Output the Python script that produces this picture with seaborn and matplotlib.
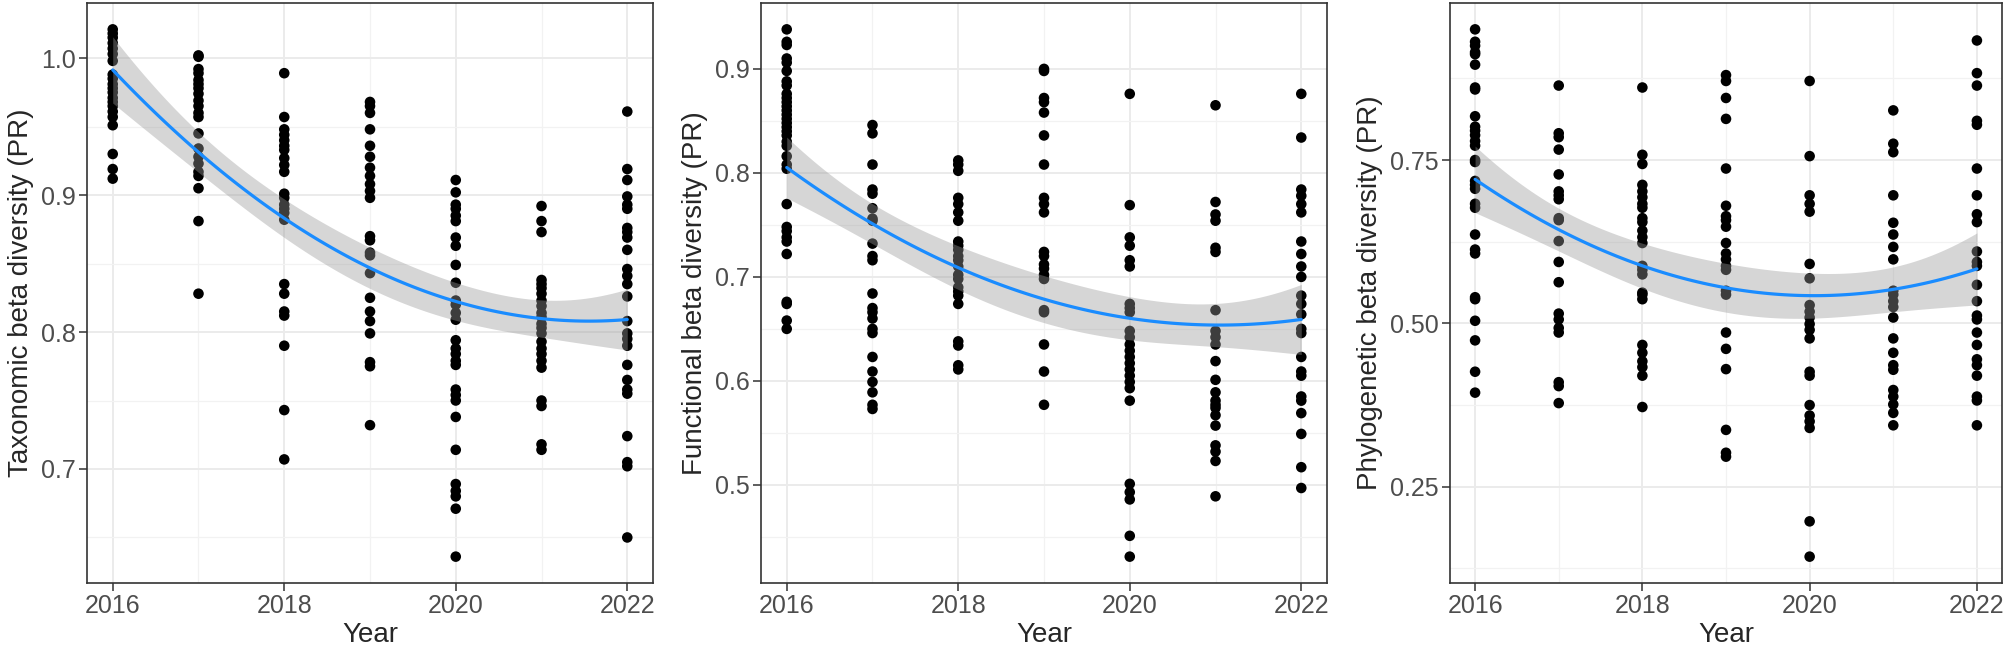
import numpy as np
import pandas as pd
import matplotlib
matplotlib.use("Agg")
import matplotlib.pyplot as plt
import seaborn as sns
from matplotlib.ticker import FixedLocator

years = [2016, 2017, 2018, 2019, 2020, 2021, 2022]

taxonomic = {
    2016: [1.021, 1.018, 1.015, 1.011, 1.007, 1.003, 0.998, 0.988, 0.985, 0.981, 0.978,
           0.975, 0.971, 0.968, 0.965, 0.961, 0.957, 0.951, 0.930, 0.919, 0.912],
    2017: [1.002, 1.001, 0.992, 0.989, 0.984, 0.981, 0.978, 0.974, 0.969, 0.965, 0.960,
           0.957, 0.945, 0.934, 0.928, 0.923, 0.917, 0.914, 0.905, 0.881, 0.828],
    2018: [0.989, 0.957, 0.948, 0.944, 0.940, 0.936, 0.933, 0.927, 0.922, 0.917, 0.901,
           0.898, 0.893, 0.890, 0.887, 0.882, 0.835, 0.828, 0.815, 0.812, 0.790, 0.743, 0.707],
    2019: [0.968, 0.965, 0.960, 0.948, 0.936, 0.928, 0.920, 0.914, 0.908, 0.903, 0.898,
           0.870, 0.867, 0.858, 0.856, 0.843, 0.825, 0.815, 0.808, 0.799, 0.778, 0.775, 0.732],
    2020: [0.911, 0.902, 0.893, 0.890, 0.885, 0.881, 0.869, 0.863, 0.849, 0.836, 0.823,
           0.820, 0.814, 0.809, 0.794, 0.788, 0.784, 0.779, 0.776, 0.758, 0.754, 0.750,
           0.738, 0.714, 0.689, 0.684, 0.680, 0.671, 0.636],
    2021: [0.892, 0.881, 0.873, 0.838, 0.835, 0.832, 0.828, 0.823, 0.819, 0.814, 0.811,
           0.806, 0.803, 0.799, 0.793, 0.788, 0.784, 0.779, 0.774, 0.750, 0.746, 0.718, 0.714],
    2022: [0.961, 0.919, 0.911, 0.899, 0.893, 0.890, 0.876, 0.873, 0.869, 0.860, 0.846,
           0.841, 0.835, 0.826, 0.808, 0.799, 0.795, 0.790, 0.776, 0.765, 0.758, 0.755,
           0.724, 0.705, 0.702, 0.650],
}

functional = {
    2016: [0.938, 0.926, 0.923, 0.910, 0.906, 0.898, 0.888, 0.884, 0.876, 0.872, 0.868,
           0.864, 0.860, 0.856, 0.852, 0.848, 0.844, 0.840, 0.836, 0.830, 0.826, 0.816,
           0.808, 0.804, 0.770, 0.748, 0.744, 0.738, 0.734, 0.722, 0.676, 0.674, 0.658, 0.650],
    2017: [0.846, 0.838, 0.808, 0.784, 0.780, 0.766, 0.756, 0.754, 0.732, 0.720, 0.716,
           0.684, 0.670, 0.666, 0.660, 0.650, 0.646, 0.623, 0.609, 0.599, 0.589, 0.577, 0.573],
    2018: [0.812, 0.808, 0.802, 0.776, 0.770, 0.762, 0.754, 0.734, 0.730, 0.726, 0.720,
           0.716, 0.710, 0.702, 0.698, 0.690, 0.686, 0.682, 0.674, 0.638, 0.634, 0.615, 0.611],
    2019: [0.900, 0.898, 0.872, 0.868, 0.858, 0.836, 0.808, 0.776, 0.770, 0.762, 0.724,
           0.720, 0.712, 0.708, 0.702, 0.698, 0.668, 0.666, 0.635, 0.609, 0.577],
    2020: [0.876, 0.769, 0.738, 0.730, 0.716, 0.710, 0.674, 0.670, 0.666, 0.648, 0.642,
           0.635, 0.629, 0.623, 0.617, 0.611, 0.605, 0.599, 0.593, 0.581, 0.501, 0.493,
           0.486, 0.451, 0.431],
    2021: [0.865, 0.772, 0.760, 0.754, 0.728, 0.724, 0.668, 0.648, 0.642, 0.635, 0.619,
           0.601, 0.589, 0.581, 0.577, 0.574, 0.567, 0.557, 0.538, 0.532, 0.523, 0.489],
    2022: [0.876, 0.834, 0.784, 0.778, 0.770, 0.762, 0.734, 0.722, 0.710, 0.700, 0.682,
           0.674, 0.664, 0.650, 0.646, 0.623, 0.609, 0.605, 0.585, 0.581, 0.569, 0.549,
           0.517, 0.497],
}

phylogenetic = {
    2016: [0.950, 0.931, 0.925, 0.915, 0.912, 0.896, 0.861, 0.858, 0.817, 0.801, 0.795,
           0.788, 0.779, 0.772, 0.750, 0.747, 0.718, 0.712, 0.706, 0.683, 0.677, 0.636,
           0.613, 0.607, 0.540, 0.537, 0.504, 0.474, 0.426, 0.394],
    2017: [0.864, 0.791, 0.785, 0.766, 0.728, 0.702, 0.696, 0.690, 0.661, 0.658, 0.626,
           0.594, 0.563, 0.515, 0.506, 0.493, 0.486, 0.410, 0.404, 0.378],
    2018: [0.861, 0.758, 0.744, 0.712, 0.702, 0.693, 0.683, 0.677, 0.661, 0.655, 0.642,
           0.632, 0.623, 0.588, 0.582, 0.575, 0.547, 0.544, 0.537, 0.467, 0.455, 0.442,
           0.433, 0.420, 0.372],
    2019: [0.880, 0.871, 0.845, 0.813, 0.737, 0.680, 0.664, 0.658, 0.648, 0.623, 0.607,
           0.598, 0.588, 0.582, 0.550, 0.544, 0.486, 0.461, 0.430, 0.337, 0.302, 0.296],
    2020: [0.871, 0.756, 0.696, 0.683, 0.671, 0.591, 0.569, 0.528, 0.518, 0.509, 0.499,
           0.490, 0.477, 0.426, 0.420, 0.375, 0.359, 0.350, 0.340, 0.197, 0.143],
    2021: [0.826, 0.775, 0.762, 0.696, 0.654, 0.636, 0.617, 0.598, 0.550, 0.544, 0.534,
           0.525, 0.509, 0.477, 0.455, 0.436, 0.429, 0.398, 0.388, 0.376, 0.363, 0.344],
    2022: [0.933, 0.883, 0.864, 0.810, 0.804, 0.737, 0.696, 0.667, 0.655, 0.610, 0.594,
           0.588, 0.559, 0.534, 0.512, 0.506, 0.486, 0.467, 0.445, 0.436, 0.420, 0.388,
           0.382, 0.344],
}

ylabels = ["Taxonomic beta diversity (PR)", "Functional beta diversity (PR)",
           "Phylogenetic beta diversity (PR)"]
xticks_major = [2016, 2018, 2020, 2022]
xticks_minor = [2017, 2019, 2021]
yticks_major = [[0.7, 0.8, 0.9, 1.0], [0.5, 0.6, 0.7, 0.8, 0.9], [0.25, 0.50, 0.75]]
ytick_labels = [["0.7", "0.8", "0.9", "1.0"], ["0.5", "0.6", "0.7", "0.8", "0.9"],
                ["0.25", "0.50", "0.75"]]
yticks_minor = [[0.65, 0.75, 0.85, 0.95], [0.45, 0.55, 0.65, 0.75, 0.85],
                [0.125, 0.375, 0.625, 0.875]]


def quad_fit(x, y, xs):
    """Quadratic least-squares fit with pointwise standard errors."""
    x = np.asarray(x, float)
    y = np.asarray(y, float)
    c = x.mean()
    X = np.column_stack([np.ones_like(x), x - c, (x - c) ** 2])
    beta, *_ = np.linalg.lstsq(X, y, rcond=None)
    resid = y - X @ beta
    sigma2 = resid @ resid / (len(x) - 3)
    cov = sigma2 * np.linalg.inv(X.T @ X)
    Xs = np.column_stack([np.ones_like(xs), xs - c, (xs - c) ** 2])
    fit = Xs @ beta
    se = np.sqrt(np.einsum("ij,jk,ik->i", Xs, cov, Xs))
    return fit, se


sns.set_style("white")
plt.rcParams["font.family"] = ["Liberation Sans", "DejaVu Sans"]

W, H = 2008, 651
fig = plt.figure(figsize=(W / 100, H / 100), dpi=100)
boxes = [(87, 653), (761, 1327), (1450, 2002)]
top_px, bot_px = 3, 583

for i, (data, (l, r)) in enumerate(zip([taxonomic, functional, phylogenetic], boxes)):
    ax = fig.add_axes([l / W, (H - bot_px) / H, (r - l) / W, (bot_px - top_px) / H])
    df = pd.DataFrame([(y, v) for y in years for v in data[y]], columns=["Year", "value"])
    ax.set_axisbelow(True)
    sns.scatterplot(data=df, x="Year", y="value", ax=ax, color="black", s=58,
                    edgecolor="none", linewidth=0, zorder=3, legend=False)
    grid = np.linspace(years[0], years[-1], 100)
    fit, se = quad_fit(df["Year"].values, df["value"].values, grid)
    smooth = pd.DataFrame({"Year": grid, "fit": fit})
    ax.fill_between(grid, fit - 1.974 * se, fit + 1.974 * se, color="#999999", alpha=0.4,
                    lw=0, zorder=4)
    sns.lineplot(data=smooth, x="Year", y="fit", ax=ax, color="#1A8CFF", lw=2.3, zorder=5)
    vmin, vmax = df["value"].min(), df["value"].max()
    pad = (vmax - vmin) * 0.05
    ax.set_ylim(vmin - pad, vmax + pad)
    ax.set_xlim(2016 - 0.3, 2022 + 0.3)
    ax.xaxis.set_major_locator(FixedLocator(xticks_major))
    ax.xaxis.set_minor_locator(FixedLocator(xticks_minor))
    ax.set_xticklabels([str(t) for t in xticks_major])
    ax.yaxis.set_major_locator(FixedLocator(yticks_major[i]))
    ax.yaxis.set_minor_locator(FixedLocator(yticks_minor[i]))
    ax.set_yticklabels(ytick_labels[i])
    ax.grid(True, which="major", color="#EBEBEB", lw=1.4)
    ax.grid(True, which="minor", color="#F2F2F2", lw=0.9)
    ax.tick_params(which="major", direction="out", length=6, width=1.1, color="#333333",
                   labelsize=18, labelcolor="#4D4D4D", pad=2, left=True, bottom=True)
    ax.tick_params(which="minor", length=0)
    for s in ax.spines.values():
        s.set_color("#333333")
        s.set_linewidth(1.2)
    ax.set_xlabel("Year", fontsize=20, labelpad=3)
    ax.set_ylabel(ylabels[i], fontsize=20, labelpad=5)

fig.savefig("out.png", dpi=100, facecolor="white")
